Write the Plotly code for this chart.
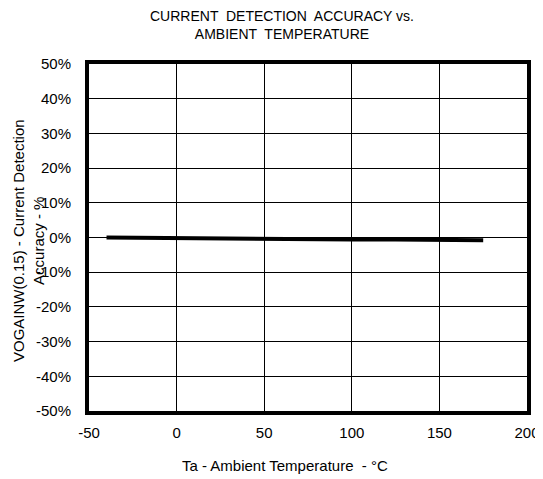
import plotly.graph_objects as go

temps = [-40, -20, 0, 25, 50, 75, 100, 125, 150, 175]
accuracy = [-0.0, -0.1, -0.2, -0.4, -0.5, -0.5, -0.6, -0.6, -0.7, -0.8]  # percent
y_ticks = [-50, -40, -30, -20, -10, 0, 10, 20, 30, 40, 50]
y_tick_labels = [f"{v}%" for v in y_ticks]
x_ticks = [-50, 0, 50, 100, 150, 200]
x_tick_labels = [str(v) for v in x_ticks]

font = "Liberation Sans, Arial, sans-serif"
OFF = 8  # default page body margin

fig = go.Figure()
fig.add_trace(go.Scatter(x=temps, y=accuracy, mode="lines",
                         line=dict(color="black", width=4), showlegend=False))

fig.update_layout(
    width=543 - OFF, height=479 - OFF,
    margin=dict(l=89 - OFF, r=16, t=64 - OFF, b=68),
    paper_bgcolor="white", plot_bgcolor="white",
    font=dict(family=font, size=15, color="black"),
    xaxis=dict(range=[-50, 200], tickvals=x_ticks, ticktext=x_tick_labels, showgrid=True,
               gridcolor="black", gridwidth=1, showline=True, linecolor="black", linewidth=4,
               mirror=True, zeroline=False, ticks="", ticklabelstandoff=5, automargin=False,
               tickfont=dict(size=15)),
    yaxis=dict(range=[-50, 50], tickvals=y_ticks, ticktext=y_tick_labels, showgrid=True,
               gridcolor="black", gridwidth=1, showline=True, linecolor="black", linewidth=4,
               mirror=True, zeroline=False, ticks="", ticklabelstandoff=11, automargin=False,
               tickfont=dict(size=15)),
    annotations=[
        dict(text="CURRENT  DETECTION  ACCURACY vs.<br>AMBIENT  TEMPERATURE",
             xref="paper", yref="paper", x=(282 - 89) / 438, y=1 + (64 - 6) / 347,
             xanchor="center", yanchor="top", showarrow=False,
             font=dict(size=14, family=font)),
        dict(text="Ta - Ambient Temperature  - °C",
             xref="paper", yref="paper", x=(285 - 89) / 438, y=-(466 - 411) / 347,
             xanchor="center", yanchor="middle", showarrow=False,
             font=dict(size=15, family=font)),
        dict(text="VOGAINW(0.15) - Current Detection<br>Accuracy - %",
             xref="paper", yref="paper", x=-(89 - 28) / 438, y=(411 - 241) / 347,
             xanchor="center", yanchor="middle", showarrow=False, textangle=-90,
             font=dict(size=15, family=font)),
    ],
)

fig.write_html("out.html")
